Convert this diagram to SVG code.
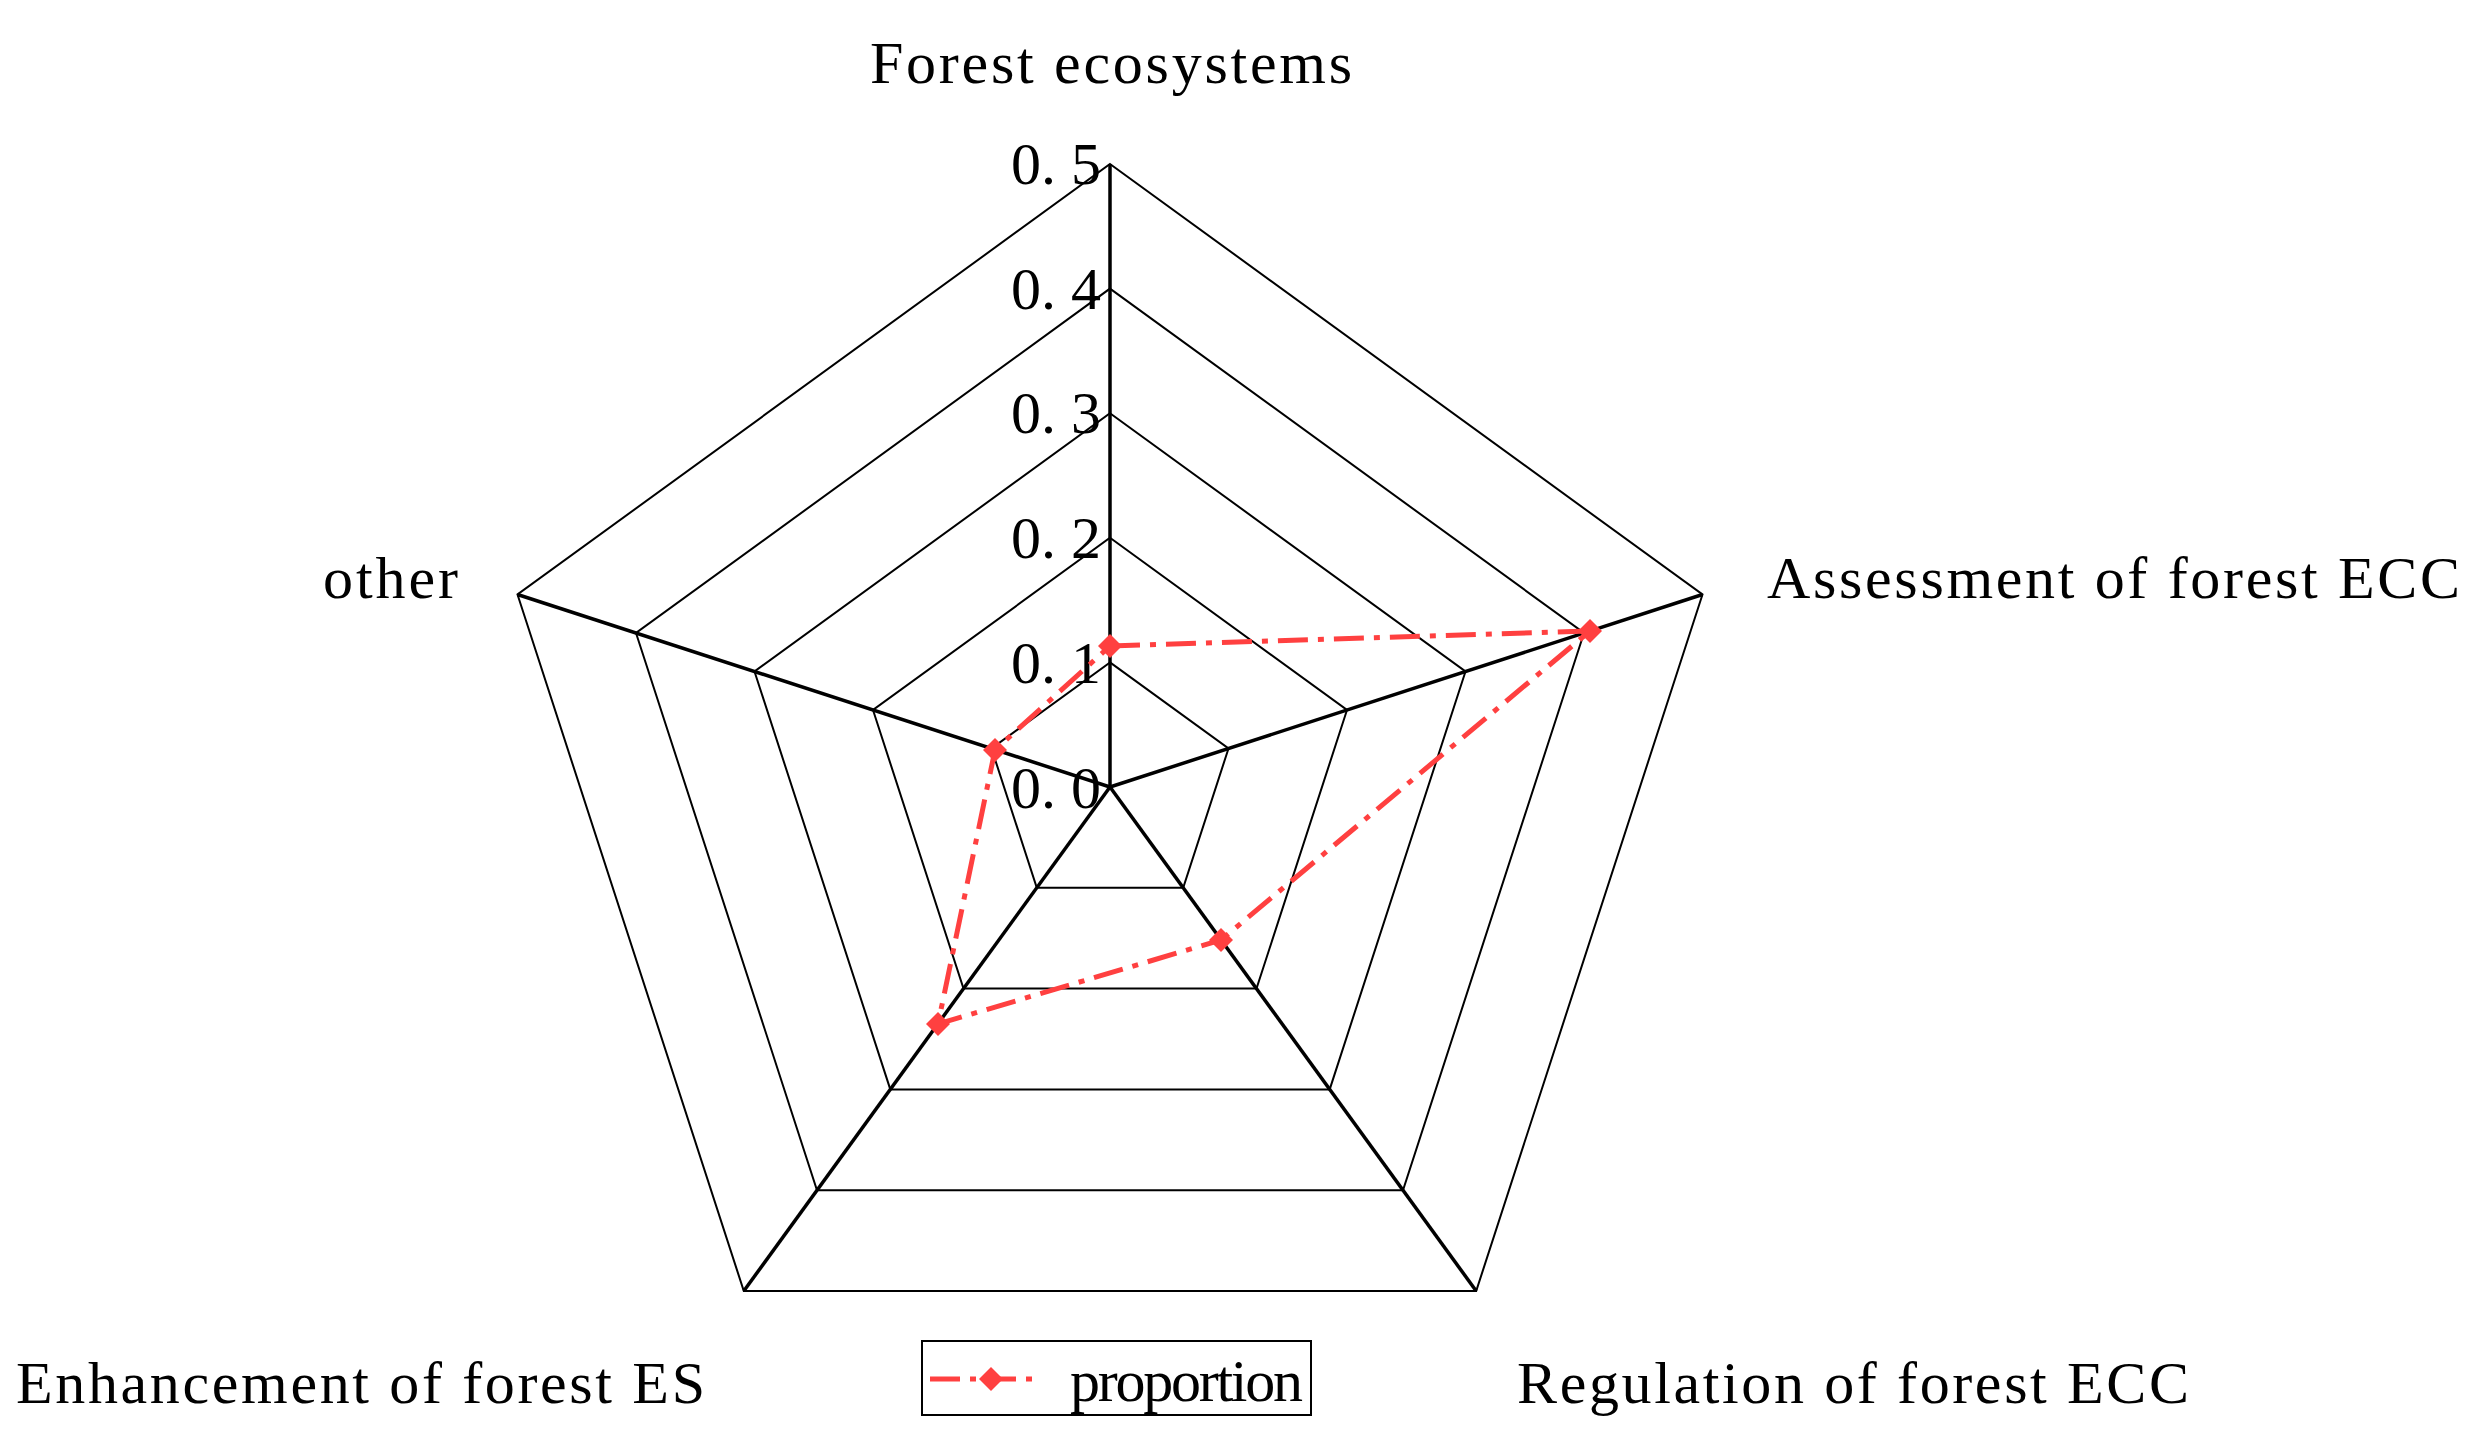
<svg xmlns="http://www.w3.org/2000/svg" width="2473" height="1452" viewBox="0 0 2473 1452">
<style>
.ring{fill:none;stroke:#000;stroke-width:2}
.ax{stroke:#000;stroke-width:3.5}
.t{font-family:"Liberation Serif","DejaVu Serif",serif;font-size:60px;fill:#000}
.d{fill:none;stroke:#FF4040;stroke-width:5;stroke-dasharray:30 10 6 10}
</style>
<defs><path id="dm" d="M0,-12L12,0L0,12L-12,0Z" fill="#FF4040"/></defs>
<rect width="2473" height="1452" fill="#fff"/>
<g id="grid">
<polygon class="ring" points="1110,164 1702.5,594.5 1476.2,1291 743.8,1291 517.5,594.5"/>
<polygon class="ring" points="1110,288.6 1584,633 1403,1190.2 817,1190.2 636,633"/>
<polygon class="ring" points="1110,413.2 1465.5,671.5 1329.7,1089.4 890.3,1089.4 754.5,671.5"/>
<polygon class="ring" points="1110,537.8 1347,710 1256.5,988.6 963.5,988.6 873,710"/>
<polygon class="ring" points="1110,662.4 1228.5,748.5 1183.2,887.8 1036.8,887.8 991.5,748.5"/>
<line class="ax" x1="1110" y1="787" x2="1110" y2="164"/>
<line class="ax" x1="1110" y1="787" x2="1702.5" y2="594.5"/>
<line class="ax" x1="1110" y1="787" x2="1476.2" y2="1291"/>
<line class="ax" x1="1110" y1="787" x2="743.8" y2="1291"/>
<line class="ax" x1="1110" y1="787" x2="517.5" y2="594.5"/>
</g>
<g id="ticks" class="t">
<text x="1011" y="184" textLength="90">0. 5</text>
<text x="1011" y="309" textLength="90">0. 4</text>
<text x="1011" y="433" textLength="90">0. 3</text>
<text x="1011" y="558" textLength="90">0. 2</text>
<text x="1011" y="683" textLength="90">0. 1</text>
<text x="1011" y="808" textLength="90">0. 0</text>
</g>
<g id="labels" class="t">
<text x="870" y="83" textLength="482">Forest ecosystems</text>
<text x="1767" y="598" textLength="693">Assessment of forest ECC</text>
<text x="323" y="598" textLength="135">other</text>
<text x="16" y="1403" textLength="689">Enhancement of forest ES</text>
<text x="1517" y="1403" textLength="672">Regulation of forest ECC</text>
</g>
<g id="series">
<polyline class="d" points="1110,646 1590,631 1221,940 938,1024 995,750 1110,646"/>
<use href="#dm" x="1110" y="646"/>
<use href="#dm" x="1590" y="631"/>
<use href="#dm" x="1221" y="940"/>
<use href="#dm" x="938" y="1024"/>
<use href="#dm" x="995" y="750"/>
</g>
<g id="legend">
<rect x="922" y="1341" width="389" height="74" fill="none" stroke="#000" stroke-width="2"/>
<line class="d" x1="930" y1="1379" x2="1041" y2="1379"/>
<use href="#dm" x="991" y="1379"/>
<text class="t" x="1070" y="1401" textLength="233">proportion</text>
</g>
</svg>
